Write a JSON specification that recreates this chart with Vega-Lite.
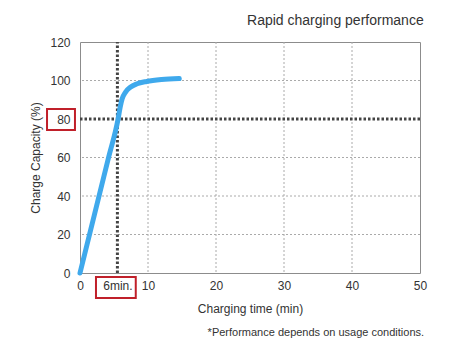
{
  "$schema": "https://vega.github.io/schema/vega-lite/v6.json",
  "width": 340,
  "height": 231,
  "autosize": {"type": "none"},
  "padding": {"left": 80, "top": 42, "right": 39, "bottom": 80},
  "background": "white",
  "config": {
    "font": "Liberation Sans",
    "view": {"stroke": "#8c8c8c", "strokeWidth": 1},
    "axis": {
      "labelFont": "Liberation Sans",
      "titleFont": "Liberation Sans",
      "domain": false,
      "ticks": false,
      "grid": false,
      "labelFlush": false,
      "labelFontSize": 12,
      "labelColor": "#333333",
      "titleFontSize": 12,
      "titleFontWeight": "normal",
      "titleColor": "#333333"
    }
  },
  "title": {
    "text": "Rapid charging performance",
    "anchor": "end",
    "fontSize": 14,
    "fontWeight": "normal",
    "color": "#333333",
    "offset": 8,
    "dx": -3
  },
  "datasets": {
    "curve": [
      {"t": 0, "c": 0},
      {"t": 1.4, "c": 20},
      {"t": 2.8, "c": 40},
      {"t": 4.2, "c": 60},
      {"t": 5.6, "c": 80},
      {"t": 5.9, "c": 86},
      {"t": 6.2, "c": 90.5},
      {"t": 6.7, "c": 94},
      {"t": 7.4, "c": 96.5},
      {"t": 8.4, "c": 98.3},
      {"t": 9.8, "c": 99.5},
      {"t": 12, "c": 100.5},
      {"t": 14.6, "c": 101}
    ],
    "gridx": [{"v": 10}, {"v": 20}, {"v": 30}, {"v": 40}],
    "gridy": [{"v": 20}, {"v": 40}, {"v": 60}, {"v": 100}],
    "refs": [
      {"x": 5.5, "x2": 5.5, "y": 0, "y2": 120},
      {"x": 0, "x2": 50, "y": 80, "y2": 80}
    ],
    "boxes": [
      {"x": -4.85, "x2": -0.74, "y": 74.3, "y2": 85.2},
      {"x": 2.35, "x2": 8.2, "y": -2.1, "y2": -13}
    ],
    "notes": [
      {"x": 50.6, "y": -31, "text": "*Performance depends on usage conditions."}
    ]
  },
  "layer": [
    {
      "data": {"name": "gridx"},
      "mark": {"type": "rule", "color": "#aaaaaa", "strokeWidth": 1, "strokeDash": [2, 2]},
      "encoding": {
        "x": {
          "field": "v",
          "type": "quantitative",
          "scale": {"domain": [0, 50], "nice": false},
          "axis": {
            "title": "Charging time (min)",
            "values": [0, 5.5, 10, 20, 30, 40, 50],
            "labelExpr": "datum.value == 5.5 ? '6min.' : datum.label",
            "labelOverlap": false,
            "labelFlush": false,
            "labelPadding": 7,
            "titlePadding": 12
          }
        }
      }
    },
    {
      "data": {"name": "gridy"},
      "mark": {"type": "rule", "color": "#aaaaaa", "strokeWidth": 1, "strokeDash": [2, 2]},
      "encoding": {
        "y": {
          "field": "v",
          "type": "quantitative",
          "scale": {"domain": [0, 120], "nice": false},
          "axis": {
            "title": "Charge Capacity (%)",
            "tickCount": 6,
            "labelOverlap": false,
            "labelFlush": false,
            "labelSeparation": 0,
            "labelPadding": 10,
            "titlePadding": 7
          }
        }
      }
    },
    {
      "data": {"name": "refs"},
      "mark": {"type": "rule", "color": "#444444", "strokeWidth": 3, "strokeDash": [2.5, 2]},
      "encoding": {
        "x": {"field": "x", "type": "quantitative"},
        "x2": {"field": "x2"},
        "y": {"field": "y", "type": "quantitative"},
        "y2": {"field": "y2"}
      }
    },
    {
      "data": {"name": "curve"},
      "mark": {"type": "line", "color": "#3fa9ec", "strokeWidth": 5, "interpolate": "monotone", "strokeCap": "round"},
      "encoding": {
        "x": {"field": "t", "type": "quantitative"},
        "y": {"field": "c", "type": "quantitative"}
      }
    },
    {
      "data": {"name": "boxes"},
      "mark": {"type": "rect", "fill": null, "stroke": "#c0202a", "strokeWidth": 2, "clip": false},
      "encoding": {
        "x": {"field": "x", "type": "quantitative"},
        "x2": {"field": "x2"},
        "y": {"field": "y", "type": "quantitative"},
        "y2": {"field": "y2"}
      }
    },
    {
      "data": {"name": "notes"},
      "mark": {"type": "text", "align": "right", "baseline": "middle", "fontSize": 11, "color": "#333333", "clip": false},
      "encoding": {
        "x": {"field": "x", "type": "quantitative"},
        "y": {"field": "y", "type": "quantitative"},
        "text": {"field": "text"}
      }
    }
  ]
}
